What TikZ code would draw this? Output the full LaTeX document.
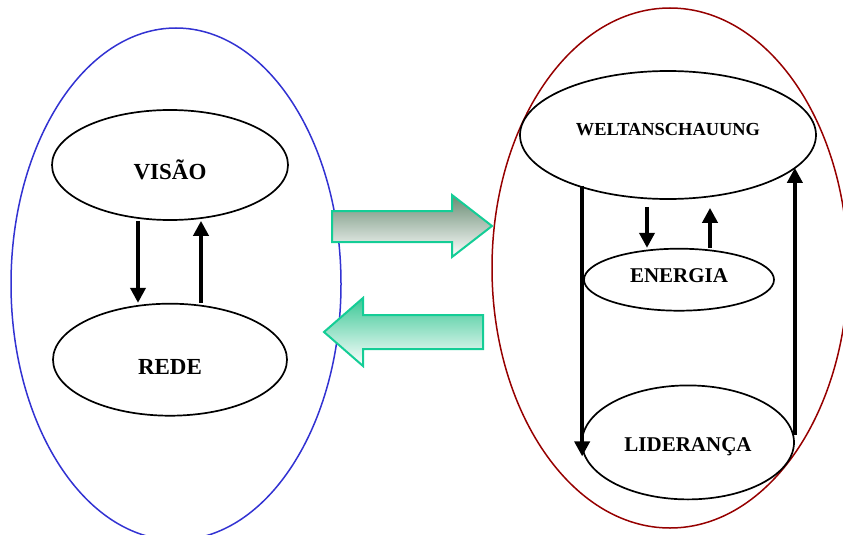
\documentclass[tikz,border=0pt]{standalone}
\usepackage{fontspec}
\setmainfont{Liberation Serif}
\usetikzlibrary{shapes.geometric, arrows.meta, positioning}

\definecolor{leftring}{RGB}{50,50,210}
\definecolor{rightring}{RGB}{150,0,0}
\definecolor{flowline}{RGB}{20,205,150}
\definecolor{flowdark}{RGB}{105,140,115}
\definecolor{flowlight}{RGB}{60,200,150}

\begin{document}
\begin{tikzpicture}[x=1pt, y=-1pt, node distance=82pt and 3.5cm,
  bubble/.style={ellipse, draw, line width=1.7pt, inner sep=0pt, text depth=0pt},
  ring/.style={ellipse, draw, line width=1.5pt, inner sep=0pt},
  link/.style={line width=4pt, -{Triangle[width=15pt,length=15pt]}},
  flow/.style={draw=flowline, line width=2pt, bottom color=white}]
  \useasboundingbox (0,0) rectangle (843,535);

  % the two groups
  \node (left) [ring, draw=leftring, minimum width=330pt, minimum height=512pt] at (176,284) {};
  \node (right) [ring, draw=rightring, minimum width=356pt, minimum height=520pt] at (670,268) {};

  \node (visao) [bubble, minimum width=236pt, minimum height=110pt, font=\bfseries\fontsize{23}{27}\selectfont, text height=29pt] at (170,165) {VISÃO};
  \node (rede) [below=82pt of visao, bubble, minimum width=234pt, minimum height=112pt, font=\bfseries\fontsize{23}{27}\selectfont, text height=30pt] {REDE};

  \node (welt) [bubble, minimum width=296pt, minimum height=128pt, font=\bfseries\fontsize{18.4}{22}\selectfont, text height=0pt] at (668,135) {WELTANSCHAUUNG};
  \node (energia) [below=48pt of welt, xshift=11pt, bubble, minimum width=190pt, minimum height=62pt, font=\bfseries\fontsize{21}{25}\selectfont, text height=6pt] {ENERGIA};
  \node (lider) [below=73pt of energia, xshift=9pt, bubble, minimum width=212pt, minimum height=114pt, font=\bfseries\fontsize{21}{25}\selectfont, text height=18pt] {LIDERANÇA};

  \draw [link] ([xshift=-32pt]visao.south) -- ([xshift=-32pt]rede.north);
  \draw [link] ([xshift=31pt]rede.north) -- ([xshift=31pt]visao.south);

  \draw [link] ([xshift=1pt,yshift=14pt]welt.south -| lider.west) -- ([xshift=1pt,yshift=-14pt]lider.west);
  \draw [link] ([yshift=7pt]lider.east) -- ([yshift=32pt]lider.east |- welt.south);
  \draw [link] ([xshift=-21pt,yshift=-7pt]welt.south) -- ([xshift=-32pt]energia.north);
  \draw [link] ([xshift=31pt]energia.north) -- ([xshift=42pt,yshift=-8pt]welt.south);

  % exchange between the groups
  \draw [flow, top color=flowdark] (332,211) -- (452,211) -- (452,195) -- (492,226) -- (452,257) -- (452,242) -- (332,242) -- cycle;
  \draw [flow, top color=flowlight] (324,332) -- (363,298) -- (363,315) -- (483,315) -- (483,349) -- (363,349) -- (363,366) -- cycle;
\end{tikzpicture}
\end{document}
